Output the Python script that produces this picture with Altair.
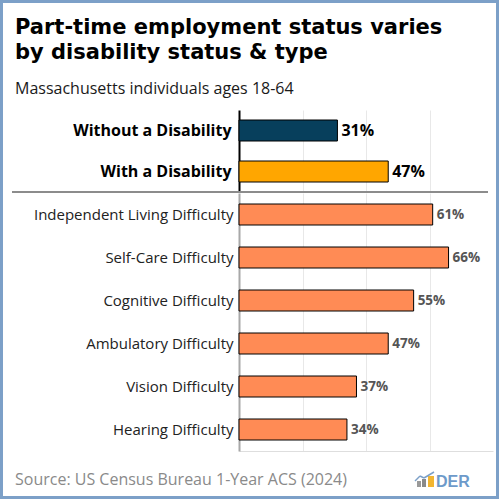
import altair as alt
import pandas as pd

# Headline groups
group_labels = ["Without a Disability", "With a Disability"]
group_values = [31, 47]
group_colors = ["#073f5c", "#ffa600"]

# Disability types
type_labels = [
    "Independent Living Difficulty",
    "Self-Care Difficulty",
    "Cognitive Difficulty",
    "Ambulatory Difficulty",
    "Vision Difficulty",
    "Hearing Difficulty",
]
type_values = [61, 66, 55, 47, 37, 34]

title_lines = ["Part-time employment status varies", "by disability status & type"]
subtitle_text = ["Massachusetts individuals ages 18-64"]
source_text = ["Source: US Census Bureau 1-Year ACS (2024)"]
brand_text = ["DER"]
grid_values = [20, 40, 60]

FONT = "Open Sans"
W = 254
x_scale = alt.Scale(domain=[0, 80], zero=True, nice=False)

top_df = pd.DataFrame({"group": group_labels, "pct": group_values})
top_df["label"] = top_df["pct"].astype(str) + "%"
bot_df = pd.DataFrame({"type": type_labels, "pct": type_values})
bot_df["label"] = bot_df["pct"].astype(str) + "%"

x_top_axis = alt.Axis(values=grid_values, grid=True, gridColor="#e8e8e8", labels=False,
                      ticks=False, domain=False, title=None)
x_bot_axis = alt.Axis(values=grid_values, grid=True, gridColor="#e8e8e8", labels=False,
                      ticks=False, domain=True, domainColor="#dedede", title=None)

# --- top panel: with / without a disability ---
top_base = alt.Chart(top_df)
top_bars = top_base.mark_bar(size=21, stroke="black", strokeWidth=1).encode(
    x=alt.X("pct:Q", scale=x_scale, axis=x_top_axis),
    y=alt.Y("group:N", sort=group_labels, title=None,
            axis=alt.Axis(domainColor="black", domainWidth=2, ticks=False, labelFont=FONT,
                          labelFontSize=16, labelFontWeight="bold", labelColor="black",
                          labelPadding=8, labelLimit=300, grid=False)),
    color=alt.Color("group:N", scale=alt.Scale(domain=group_labels, range=group_colors), legend=None),
)
top_text = top_base.mark_text(align="left", baseline="middle", dx=4, font=FONT, fontSize=16,
                              fontWeight="bold", color="black").encode(
    x=alt.X("pct:Q", scale=x_scale), y=alt.Y("group:N", sort=group_labels), text="label:N")

title_df = pd.DataFrame({"t": title_lines, "yy": [-76, -51]})
title_marks = alt.Chart(title_df).mark_text(align="left", baseline="alphabetic", font="DejaVu Sans",
                                            fontSize=21, fontWeight="bold", color="black").encode(
    x=alt.value(-224), y=alt.Y("yy:Q", scale=None), text="t:N")
subtitle_mark = alt.Chart(pd.DataFrame({"t": subtitle_text})).mark_text(
    align="left", baseline="alphabetic", font=FONT, fontSize=16, color="#1a1a1a").encode(
    x=alt.value(-224), y=alt.value(-16), text="t:N")
separator = alt.Chart(pd.DataFrame({"t": [0]})).mark_rule(color="#8c8c8c", strokeWidth=2).encode(
    x=alt.value(-227), x2=alt.value(249), y=alt.value(82))
frame = alt.Chart(pd.DataFrame({"t": [0]})).mark_rect(filled=False, stroke="#7ca0c8", strokeWidth=3).encode(
    x=alt.value(-237.5), x2=alt.value(258.5), y=alt.value(-108.5), y2=alt.value(387.5))

top = alt.layer(top_bars, top_text, title_marks, subtitle_mark, separator, frame).properties(
    width=W, height=82)

# --- bottom panel: disability types ---
bot_base = alt.Chart(bot_df)
bot_bars = bot_base.mark_bar(size=21, stroke="black", strokeWidth=1, color="#ff8b55").encode(
    x=alt.X("pct:Q", scale=x_scale, axis=x_bot_axis),
    y=alt.Y("type:N", sort=type_labels, title=None,
            axis=alt.Axis(domainColor="#a8a8a8", domainWidth=2, ticks=False, labelFont=FONT,
                          labelFontSize=15, labelColor="#222222", labelPadding=6, labelLimit=300,
                          grid=False)),
)
bot_text = bot_base.mark_text(align="left", baseline="middle", dx=4, font=FONT, fontSize=13.5,
                              fontWeight="bold", color="#555555").encode(
    x=alt.X("pct:Q", scale=x_scale), y=alt.Y("type:N", sort=type_labels), text="label:N")

source_mark = alt.Chart(pd.DataFrame({"t": source_text})).mark_text(
    align="left", baseline="alphabetic", font=FONT, fontSize=16, color="#8a8a8a").encode(
    x=alt.value(-224), y=alt.value(292), text="t:N")
brand_mark = alt.Chart(pd.DataFrame({"t": brand_text})).mark_text(
    align="left", baseline="alphabetic", font="Liberation Sans", fontSize=16, fontWeight="bold",
    color="#6d9aca").encode(x=alt.value(197), y=alt.value(294), text="t:N")

one = pd.DataFrame({"t": [0]})
icon_a = alt.Chart(one).mark_rect(color="#9a9a9a").encode(
    x=alt.value(178), x2=alt.value(182), y=alt.value(288), y2=alt.value(294))
icon_b = alt.Chart(one).mark_rect(color="#8a8a8a").encode(
    x=alt.value(183), x2=alt.value(187), y=alt.value(286), y2=alt.value(294))
icon_c = alt.Chart(one).mark_rect(color="#f2b531").encode(
    x=alt.value(189), x2=alt.value(195), y=alt.value(283), y2=alt.value(294))
icon_l1 = alt.Chart(one).mark_rule(color="#7ca0c8", strokeWidth=1.5).encode(
    x=alt.value(176), x2=alt.value(181), y=alt.value(288), y2=alt.value(283))
icon_l2 = alt.Chart(one).mark_rule(color="#7ca0c8", strokeWidth=1.5).encode(
    x=alt.value(181), x2=alt.value(185), y=alt.value(283), y2=alt.value(285))
icon_l3 = alt.Chart(one).mark_rule(color="#7ca0c8", strokeWidth=1.5).encode(
    x=alt.value(185), x2=alt.value(195), y=alt.value(285), y2=alt.value(279))

bottom = alt.layer(bot_bars, bot_text, source_mark, brand_mark,
                   icon_a, icon_b, icon_c, icon_l1, icon_l2, icon_l3).properties(width=W, height=258)

chart = alt.vconcat(top, bottom, spacing=1, bounds="flush").properties(
    padding=0, background="white"
).configure_view(stroke=None)

chart.save("out.html", embed_options={"renderer": "svg", "actions": False})
